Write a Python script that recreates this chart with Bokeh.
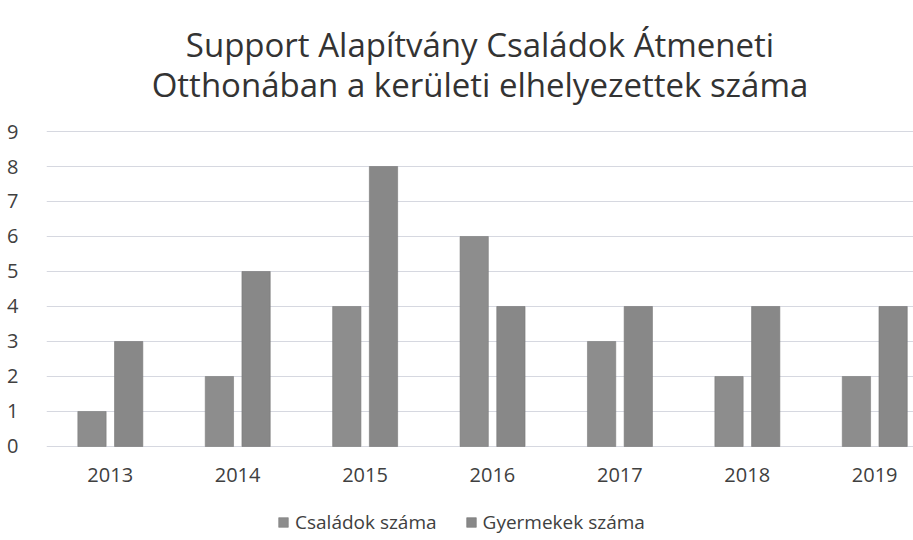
from bokeh.plotting import figure
from bokeh.models import Legend, LegendItem, ColumnDataSource, FixedTicker
from bokeh.core.properties import value
from bokeh.embed import file_html
from bokeh.resources import INLINE

years = ["2013", "2014", "2015", "2016", "2017", "2018", "2019"]
csaladok = [1, 2, 4, 6, 3, 2, 2]
gyermekek = [3, 5, 8, 4, 4, 4, 4]
series_names = ["Családok száma", "Gyermekek száma"]
y_ticks = [0, 1, 2, 3, 4, 5, 6, 7, 8, 9]
title_lines = ["Support Alapítvány Családok Átmeneti",
               "Otthonában a kerületi elhelyezettek száma"]

FONT = "Open Sans"
X0, X1 = 0, 6.805
Y0, Y1 = -2.686, 12.743

pos = [i + 0.5 for i in range(len(years))]
src = ColumnDataSource(dict(
    x1=[x - 0.143 for x in pos], x2=[x + 0.145 for x in pos],
    csaladok=csaladok, gyermekek=gyermekek))

p = figure(frame_width=867, frame_height=540, x_range=(X0, X1), y_range=(Y0, Y1),
           output_backend="svg", toolbar_location=None, x_axis_location=None,
           min_border_left=46, min_border_right=0, min_border_bottom=0, min_border_top=0)
p.outline_line_color = None
p.background_fill_color = "white"
p.border_fill_color = "white"

r1 = p.vbar(x="x1", top="csaladok", width=0.222,
            source=src, fill_color="#8d8d8d", line_color="#7c7c7c", line_width=0.6)
r2 = p.vbar(x="x2", top="gyermekek", width=0.222,
            source=src, fill_color="#888888", line_color="#777777", line_width=0.6)

p.xgrid.grid_line_color = None
p.ygrid.grid_line_color = "#d6d8e0"
p.ygrid.grid_line_width = 1
p.yaxis.ticker = FixedTicker(ticks=y_ticks)
ax = p.yaxis[0]
ax.axis_line_color = None
ax.major_tick_line_color = None
ax.minor_tick_line_color = None
ax.major_label_text_font = FONT
ax.major_label_text_font_size = "20px"
ax.major_label_text_color = "#404040"
ax.major_label_standoff = 22

# category labels under the baseline
p.text(x=pos, y=[0] * len(pos), text=years, y_offset=29,
       text_align="center", text_baseline="middle",
       text_font=value(FONT), text_font_size="20px", text_color="#404040")

# two-line title
xc = (X0 + X1) / 2
p.text(x=[xc, xc], y=[9, 9], text=title_lines, y_offset=[-87, -47],
       text_align="center", text_baseline="middle",
       text_font=value(FONT), text_font_size="33px", text_color="#333333")

legend = Legend(items=[LegendItem(label=series_names[0], renderers=[r1]),
                       LegendItem(label=series_names[1], renderers=[r2])],
                orientation="horizontal", location=(231, 5),
                label_text_font=FONT, label_text_font_size="19px",
                label_text_color="#404040", glyph_width=12, glyph_height=12,
                border_line_color=None, background_fill_alpha=0,
                spacing=28, margin=0, padding=2, label_standoff=6)
p.add_layout(legend, "center")

open("out.html", "w").write(file_html(p, INLINE))
